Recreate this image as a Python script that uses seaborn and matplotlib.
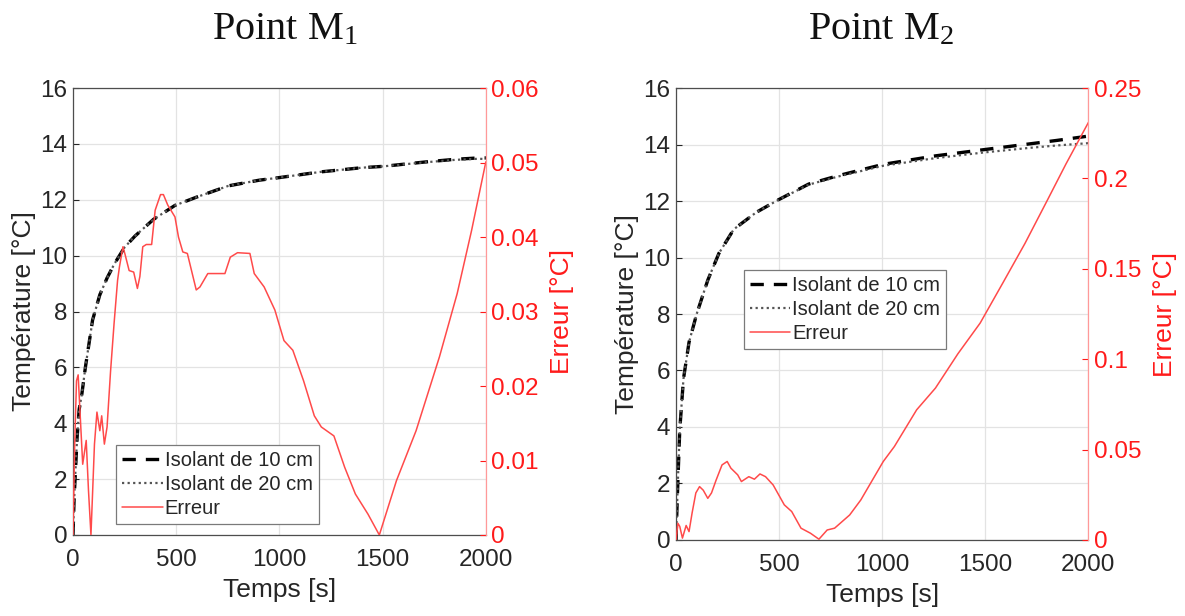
import matplotlib
matplotlib.use("Agg")
import matplotlib.pyplot as plt
import seaborn as sns
import pandas as pd

# ---------------- data ----------------
# Point M1 temperatures
t_m1 = [0, 5, 10, 20, 30, 43, 60, 95, 130, 165, 200, 250, 300, 390, 494, 600, 753, 900,
        1004, 1200, 1400, 1506, 1700, 1850, 1965, 2000]
T10_m1 = [0, 1.2, 2.0, 3.5, 4.5, 5.05, 6.0, 7.7, 8.6, 9.2, 9.7, 10.3, 10.7, 11.3, 11.8,
          12.1, 12.5, 12.7, 12.8, 13.0, 13.15, 13.2, 13.35, 13.45, 13.5, 13.5]
T20_m1 = [0, 1.2, 2.0, 3.5, 4.5, 5.05, 6.0, 7.7, 8.6, 9.2, 9.7, 10.3, 10.7, 11.3, 11.8,
          12.1, 12.5, 12.7, 12.8, 13.0, 13.15, 13.2, 13.34, 13.43, 13.47, 13.46]
# Point M1 error
te_m1 = [0, 8, 17, 25, 35, 47, 64, 75, 87, 104, 116, 130, 139, 152, 165, 182, 199, 216,
         225, 242, 251, 272, 294, 312, 324, 338, 355, 381, 398, 424, 438, 459, 494, 511,
         532, 554, 597, 615, 653, 736, 762, 797, 857, 878, 926, 978, 1022, 1065, 1117,
         1169, 1203, 1264, 1316, 1368, 1429, 1484, 1567, 1662, 1775, 1861, 1931, 2000]
err_m1 = [0, 0.012, 0.0207, 0.0215, 0.016, 0.0095, 0.0127, 0.006, 0.0, 0.0122, 0.0165,
          0.014, 0.016, 0.0122, 0.0145, 0.022, 0.0284, 0.0342, 0.036, 0.0387, 0.0378,
          0.0355, 0.0353, 0.0331, 0.0347, 0.0387, 0.039, 0.039, 0.0436, 0.0457, 0.0457,
          0.0443, 0.0427, 0.040, 0.038, 0.0378, 0.0329, 0.0333, 0.0351, 0.0351, 0.0373,
          0.0379, 0.0378, 0.0351, 0.0333, 0.0302, 0.0261, 0.0248, 0.0207, 0.016, 0.0145,
          0.0133, 0.0091, 0.0055, 0.0028, 0.0, 0.0073, 0.014, 0.0239, 0.0324, 0.0409, 0.0501]

# Point M2 temperatures
t_m2 = [0, 4, 9, 18, 36, 63, 100, 154, 208, 280, 389, 498, 643, 787, 1005, 1258, 1493,
        1710, 1850, 2000]
T10_m2 = [0, 1.0, 2.1, 3.9, 5.7, 7.0, 8.0, 9.2, 10.15, 11.0, 11.6, 12.05, 12.6, 12.9,
          13.3, 13.6, 13.82, 14.02, 14.15, 14.3]
T20_m2 = [0, 1.0, 2.1, 3.9, 5.7, 7.0, 8.0, 9.2, 10.15, 11.0, 11.6, 12.05, 12.58, 12.87,
          13.25, 13.52, 13.72, 13.88, 13.97, 14.05]
# Point M2 error
te_m2 = [0, 9, 18, 31, 49, 63, 78, 96, 114, 132, 154, 172, 194, 223, 248, 266, 299, 317,
         353, 380, 407, 434, 471, 525, 561, 606, 652, 693, 733, 769, 842, 896, 1005, 1059,
         1167, 1258, 1367, 1475, 1584, 1692, 1801, 1891, 2000]
err_m2 = [0, 0.0092, 0.0075, 0.001, 0.008, 0.0046, 0.015, 0.026, 0.0295, 0.0275, 0.023,
          0.026, 0.033, 0.0415, 0.0434, 0.0397, 0.036, 0.0323, 0.035, 0.0336, 0.0365,
          0.035, 0.0304, 0.0194, 0.0157, 0.0065, 0.0037, 0.0004, 0.0055, 0.0065, 0.0138,
          0.0221, 0.0434, 0.0517, 0.072, 0.084, 0.103, 0.12, 0.142, 0.164, 0.188, 0.208, 0.231]

titles = ["M_1", "M_2"]
xlabel = "Temps [s]"
ylabel = "Température [°C]"
y2label = "Erreur [°C]"
labels = ["Isolant de 10 cm", "Isolant de 20 cm", "Erreur"]
xticks = [0, 500, 1000, 1500, 2000]
yticks = [0, 2, 4, 6, 8, 10, 12, 14, 16]
y2ticks_m1 = [0, 0.01, 0.02, 0.03, 0.04, 0.05, 0.06]
y2ticklabels_m1 = ["0", "0.01", "0.02", "0.03", "0.04", "0.05", "0.06"]
y2ticks_m2 = [0, 0.05, 0.1, 0.15, 0.2, 0.25]
y2ticklabels_m2 = ["0", "0.05", "0.1", "0.15", "0.2", "0.25"]

# ---------------- style ----------------
sns.set_style("white")
plt.rcParams["font.family"] = ["Liberation Sans", "DejaVu Sans"]
plt.rcParams["mathtext.fontset"] = "custom"
plt.rcParams["mathtext.rm"] = "Liberation Serif"
plt.rcParams["mathtext.it"] = "Liberation Serif"

RED = "#ff1a1a"
ERR = "#ff4a4a"
DARK = "#262626"

fig = plt.figure(figsize=(11.85, 6.16), dpi=100)
ax_l = fig.add_axes([0.0616, 0.1315, 0.3484, 0.7255])
ax_r = fig.add_axes([0.5705, 0.1235, 0.3480, 0.7335])

panels = [
    (ax_l, t_m1, T10_m1, T20_m1, te_m1, err_m1, (0, 0.06), y2ticks_m1,
     y2ticklabels_m1, (0.105, 0.025), 0.2405),
    (ax_r, t_m2, T10_m2, T20_m2, te_m2, err_m2, (0, 0.25), y2ticks_m2,
     y2ticklabels_m2, (0.165, 0.423), 0.743),
]

for i, (ax, t, T10, T20, te, err, y2lim, y2t, y2tl, legpos, tx) in enumerate(panels):
    dfT = pd.DataFrame({"t": t, "T10": T10, "T20": T20})
    dfE = pd.DataFrame({"t": te, "err": err})
    sns.lineplot(data=dfT, x="t", y="T10", ax=ax, color="black", lw=2.4,
                 linestyle=(0, (4, 3)), label=labels[0], legend=False)
    sns.lineplot(data=dfT, x="t", y="T20", ax=ax, color="#555555", lw=1.6,
                 linestyle=(0, (1, 1.5)), label=labels[1], legend=False)
    ax.set_xlim(0, 2000)
    ax.set_ylim(0, 16)
    ax.set_xticks(xticks)
    ax.set_yticks(yticks)
    ax.grid(True, color="#e3e3e3", lw=0.9)
    ax.set_axisbelow(True)
    ax.tick_params(axis="both", labelsize=17.5, colors=DARK, direction="in",
                   length=4, width=0.8)
    ax.tick_params(axis="x", pad=10)
    ax.tick_params(axis="y", pad=4)
    ax.set_xlabel(xlabel, fontsize=19, color=DARK, labelpad=5)
    ax.set_ylabel(ylabel, fontsize=19, color=DARK, labelpad=3)
    for s in ["left", "bottom", "top"]:
        ax.spines[s].set_color("#4d4d4d")
        ax.spines[s].set_linewidth(0.9)
    ax.spines["right"].set_visible(False)

    ax2 = ax.twinx()
    sns.lineplot(data=dfE, x="t", y="err", ax=ax2, color=ERR, lw=1.1,
                 label=labels[2], legend=False)
    ax2.set_ylim(*y2lim)
    ax2.set_yticks(y2t)
    ax2.set_yticklabels(y2tl)
    ax2.set_xlim(0, 2000)
    ax2.tick_params(axis="y", labelsize=17.5, colors=RED, direction="in",
                    length=4, width=0.8, pad=4)
    ax2.set_ylabel(y2label, fontsize=19, color=RED, labelpad=8)
    ax2.set_xlabel("")
    for s in ["left", "bottom", "top"]:
        ax2.spines[s].set_visible(False)
    ax2.spines["right"].set_color("#ff9999")
    ax2.spines["right"].set_linewidth(0.9)
    ax2.grid(False)

    h1, l1 = ax.get_legend_handles_labels()
    h2, l2 = ax2.get_legend_handles_labels()
    leg = ax2.legend(h1 + h2, l1 + l2, loc="lower left", bbox_to_anchor=legpos,
                     fontsize=14.5, frameon=True, fancybox=False, framealpha=1,
                     edgecolor="#7a7a7a", handlelength=2.0, handletextpad=0.1,
                     borderpad=0.3, labelspacing=0.25, borderaxespad=0)
    leg.get_frame().set_linewidth(0.9)

    fig.text(tx, 0.951, r"Point $\mathrm{" + titles[i] + "}$", ha="center",
             va="center", fontsize=29, color="#111111",
             family=["Liberation Serif", "DejaVu Serif"])

fig.savefig("out.png", dpi=100)
